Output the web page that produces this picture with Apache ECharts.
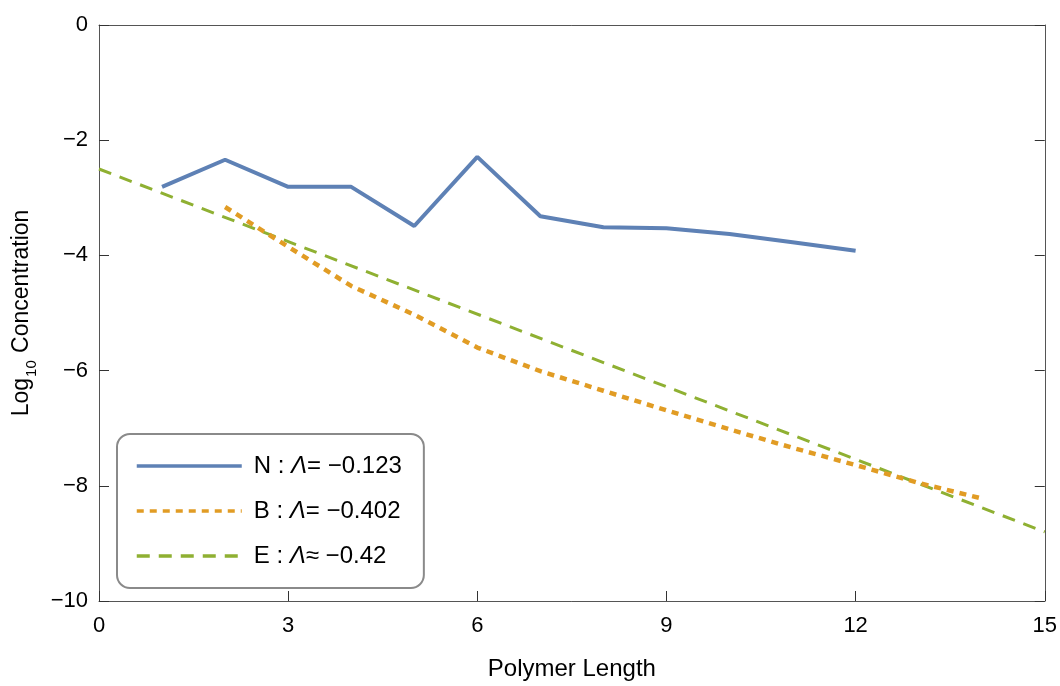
<!DOCTYPE html>
<html>
<head>
<meta charset="utf-8">
<script src="https://cdn.jsdelivr.net/npm/echarts@6/dist/echarts.min.js"></script>
<style>
  html, body { margin: 0; padding: 0; background: #fff; }
  #chart { width: 1060px; height: 686px; }
</style>
</head>
<body>
<div id="chart"></div>
<script>
// Polymer lengths and log10 concentrations for each model
const lengthsN = [1, 2, 3, 4, 5, 6, 7, 8, 9, 10, 11, 12];
const valuesN = [-2.81, -2.34, -2.81, -2.81, -3.49, -2.29, -3.32, -3.51, -3.53, -3.63, -3.77, -3.92];

const lengthsB = [2, 3, 4, 5, 6, 7, 8, 9, 10, 11, 12, 13, 14];
const valuesB = [-3.16, -3.85, -4.53, -5.03, -5.60, -6.01, -6.35, -6.69, -7.02, -7.34, -7.64, -7.95, -8.22];

// Fitted exponential decay: straight line in log space
const lengthsE = [0, 15];
const valuesE = [-2.5, -8.8];

const seriesNames = ['N', 'B', 'E'];
const lambdaRel = ['=', '=', '≈'];
const lambdaVal = ['−0.123', '−0.402', '−0.42'];

const colors = ['#5e81b5', '#e19c24', '#8fb032'];
const FONT = '"Liberation Sans", Arial, sans-serif';

function pairs(xs, ys) { return xs.map((x, i) => [x, ys[i]]); }
function minus(v) { return String(v).replace('-', '−'); }

function frameLine() { return { show: true, onZero: false, lineStyle: { color: '#555', width: 1 } }; }
function innerTicks() { return { show: true, inside: true, length: 10, lineStyle: { color: '#333', width: 1 } }; }

const chart = echarts.init(document.getElementById('chart'), null, { renderer: 'canvas' });

chart.setOption({
  animation: false,
  backgroundColor: '#fff',
  grid: { left: 99, right: 15, top: 25, bottom: 77, containLabel: false },
  xAxis: [
    {
      type: 'value', min: 0, max: 15, interval: 3, position: 'bottom',
      axisLine: frameLine(), axisTick: innerTicks(), splitLine: { show: false },
      axisLabel: { color: '#000', fontSize: 22, fontFamily: FONT, margin: 14 },
      name: 'Polymer Length', nameLocation: 'middle', nameGap: 56,
      nameTextStyle: { color: '#000', fontSize: 24, fontFamily: FONT }
    },
    {
      type: 'value', min: 0, max: 15, interval: 3, position: 'top',
      axisLine: frameLine(), axisTick: { show: false }, axisLabel: { show: false }, splitLine: { show: false }
    }
  ],
  yAxis: [
    {
      type: 'value', min: -10, max: 0, interval: 2, position: 'left',
      axisLine: frameLine(), axisTick: innerTicks(), splitLine: { show: false },
      axisLabel: { color: '#000', fontSize: 22, fontFamily: FONT, margin: 11, formatter: v => minus(v) },
      name: '{b|Log}{s|10}{b| Concentration}', nameLocation: 'middle', nameGap: 64,
      nameTextStyle: {
        color: '#000', fontFamily: FONT,
        rich: {
          b: { fontSize: 23, fontFamily: FONT, color: '#000' },
          s: { fontSize: 15, fontFamily: FONT, color: '#000', verticalAlign: 'bottom', padding: [0, 1, -7, 1] }
        }
      }
    },
    {
      type: 'value', min: -10, max: 0, interval: 2, position: 'right',
      axisLine: frameLine(), axisTick: innerTicks(), axisLabel: { show: false }, splitLine: { show: false }
    }
  ],
  legend: {
    left: 117, top: 434,
    orient: 'vertical',
    data: seriesNames,
    itemWidth: 105, itemHeight: 14, itemGap: 21,
    padding: [20, 22, 20, 18],
    borderColor: '#8a8a8a', borderWidth: 2, borderRadius: 13,
    backgroundColor: '#fff',
    itemStyle: { opacity: 0 },
    lineStyle: { width: 3.5 },
    formatter: name => {
      const i = seriesNames.indexOf(name);
      return '{t|' + name + ' : }{i|Λ}{t|' + lambdaRel[i] + ' ' + lambdaVal[i] + '}';
    },
    textStyle: {
      fontSize: 24, fontFamily: FONT, color: '#000', lineHeight: 24,
      rich: {
        t: { fontSize: 24, fontFamily: FONT, color: '#000', lineHeight: 24 },
        i: { fontSize: 24, fontFamily: FONT, color: '#000', fontStyle: 'italic', lineHeight: 24 }
      },
      padding: [0, 0, 0, 7]
    }
  },
  series: [
    {
      name: 'N', type: 'line', data: pairs(lengthsN, valuesN),
      showSymbol: false, symbol: 'none', z: 3,
      lineStyle: { color: colors[0], width: 4, type: 'solid' },
      itemStyle: { color: colors[0] }
    },
    {
      name: 'B', type: 'line', data: pairs(lengthsB, valuesB),
      showSymbol: false, symbol: 'none', z: 2,
      lineStyle: { color: colors[1], width: 4.5, type: [7, 6] },
      itemStyle: { color: colors[1] }
    },
    {
      name: 'E', type: 'line', data: pairs(lengthsE, valuesE),
      showSymbol: false, symbol: 'none', z: 1,
      lineStyle: { color: colors[2], width: 3, type: [13, 9] },
      itemStyle: { color: colors[2] }
    }
  ]
});
</script>
</body>
</html>
